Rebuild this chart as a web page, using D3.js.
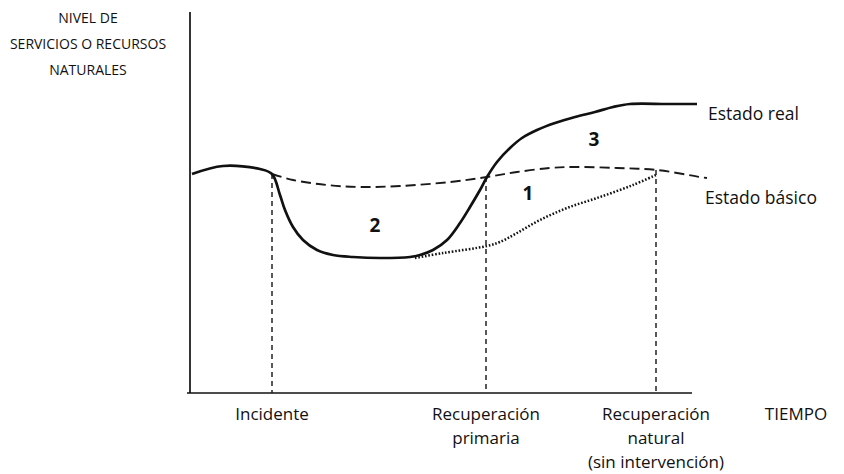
<!DOCTYPE html>
<html>
<head>
<meta charset="utf-8">
<script src="https://cdn.jsdelivr.net/npm/d3@7"></script>
<style>
  body { margin: 0; background: #fff; }
  text { font-family: "Open Sans", "Noto Sans", sans-serif; fill: #111; }
</style>
</head>
<body>
<div id="chart"></div>
<script>
// tiempo (t) and nivel (v), arbitrary units
const estadoReal = [
    [2, 219], [33, 227], [70, 224], [82, 219], [90, 198],
    [95, 183], [103, 166], [113, 153], [127, 143], [143, 138],
    [163, 136], [190, 135], [220, 136], [230, 138], [243, 143],
    [257, 153], [270, 170], [280, 186], [290, 203], [297, 216],
    [307, 231], [320, 245], [332, 255], [347, 263], [365, 270],
    [385, 276], [405, 281], [423, 286], [440, 289], [477, 289],
    [507, 289]
];
const estadoBasico = [
    [82, 219], [103, 213], [137, 208], [170, 206], [210, 207],
    [260, 211], [297, 216], [327, 221], [360, 225], [383, 226],
    [427, 225], [467, 223], [510, 216], [517, 215]
];
const recuperacionNatural = [
    [225, 135], [253, 140], [297, 147], [310, 151], [327, 160],
    [350, 173], [377, 185], [410, 196], [443, 208], [466, 218]
];
const eventos = [
    { t: 82, v: 219, label: ['Incidente'] },
    { t: 296, v: 216, label: ['Recuperación', 'primaria'] },
    { t: 466, v: 223, label: ['Recuperación', 'natural', '(sin intervención)'] }
];
const areas = [
    { t: 185, v: 166, label: '2' },
    { t: 338, v: 198, label: '1' },
    { t: 404, v: 252, label: '3' }
];
const yTitle = ['NIVEL DE', 'SERVICIOS O RECURSOS', 'NATURALES'];

const width = 844;
const height = 474;

const svg = d3.select('#chart')
    .append('svg')
    .attr('width', width)
    .attr('height', height);

const xScale = d3.scaleLinear()
    .domain([0, 510])
    .range([190, 700]);

const yScale = d3.scaleLinear()
    .domain([0, 383])
    .range([393, 10]);

// axes, no ticks
svg.append('line')
    .attr('x1', xScale(0)).attr('y1', yScale(381))
    .attr('x2', xScale(0)).attr('y2', yScale(0))
    .attr('stroke', '#111').attr('stroke-width', 1.7);

svg.append('line')
    .attr('x1', xScale(-3)).attr('y1', yScale(0))
    .attr('x2', xScale(502)).attr('y2', yScale(0))
    .attr('stroke', '#111').attr('stroke-width', 1.7);

const line = d3.line()
    .x(d => xScale(d[0]))
    .y(d => yScale(d[1]))
    .curve(d3.curveCatmullRom);

// vertical event markers
svg.selectAll('.evento')
    .data(eventos)
    .enter()
    .append('line')
    .attr('class', 'evento')
    .attr('x1', d => xScale(d.t)).attr('x2', d => xScale(d.t))
    .attr('y1', d => yScale(d.v)).attr('y2', yScale(0))
    .attr('stroke', '#222')
    .attr('stroke-width', 1.5)
    .attr('stroke-dasharray', '5,4');

svg.append('path')
    .datum(estadoBasico)
    .attr('d', line)
    .attr('fill', 'none')
    .attr('stroke', '#1a1a1a')
    .attr('stroke-width', 1.9)
    .attr('stroke-dasharray', '10,5');

svg.append('path')
    .datum(recuperacionNatural)
    .attr('d', line)
    .attr('fill', 'none')
    .attr('stroke', '#111')
    .attr('stroke-width', 2.5)
    .attr('stroke-dasharray', '1.6,1.8');

svg.append('path')
    .datum(estadoReal)
    .attr('d', line)
    .attr('fill', 'none')
    .attr('stroke', '#111')
    .attr('stroke-width', 2.7);

// area numbers
svg.selectAll('.area')
    .data(areas)
    .enter()
    .append('text')
    .attr('class', 'area')
    .attr('x', d => xScale(d.t))
    .attr('y', d => yScale(d.v))
    .attr('text-anchor', 'middle')
    .attr('dominant-baseline', 'middle')
    .style('font-size', '19px')
    .style('font-weight', 'bold')
    .text(d => d.label);

// series labels
svg.append('text')
    .attr('x', 708).attr('y', 120)
    .style('font-size', '17.5px')
    .text('Estado real');

svg.append('text')
    .attr('x', 705).attr('y', 204)
    .style('font-size', '17.5px')
    .text('Estado básico');

// event labels under the axis
eventos.forEach(e => {
    const t = svg.append('text')
        .attr('x', xScale(e.t))
        .attr('y', 420)
        .attr('text-anchor', 'middle')
        .style('font-size', '17px');
    e.label.forEach((s, i) => {
        t.append('tspan')
            .attr('x', xScale(e.t))
            .attr('dy', i === 0 ? 0 : 24)
            .text(s);
    });
});

svg.append('text')
    .attr('x', 796).attr('y', 420)
    .attr('text-anchor', 'middle')
    .style('font-size', '17px')
    .text('TIEMPO');

// y axis title
svg.append('text')
    .attr('y', 23)
    .attr('text-anchor', 'middle')
    .style('font-size', '14px')
    .selectAll('tspan')
    .data(yTitle)
    .enter()
    .append('tspan')
    .attr('x', 88)
    .attr('dy', (d, i) => i === 0 ? 0 : 26)
    .text(d => d);
</script>
</body>
</html>
